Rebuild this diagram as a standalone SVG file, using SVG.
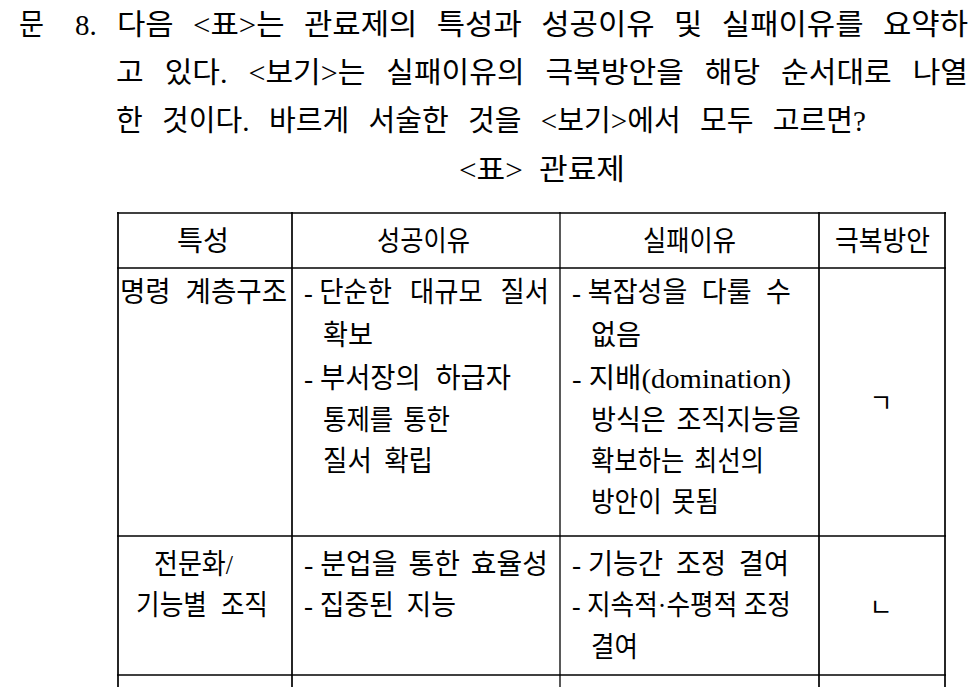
<svg xmlns="http://www.w3.org/2000/svg" width="977" height="687" viewBox="0 0 977 687">
<style>
text{font-family:'Liberation Serif','Noto Sans CJK KR',serif;font-size:28px;fill:#000;}
.q{font-size:29px;}
.d{word-spacing:0px;}
.j{font-family:'Noto Sans CJK KR',sans-serif;font-size:25px;}
.g line{stroke:#000;stroke-width:1.7;}
.g line.t{stroke-width:1.3;}
</style>
<rect width="977" height="687" fill="#fff"/>
<g id="question">
<text class="q" x="19" y="35" textLength="25" lengthAdjust="spacingAndGlyphs">문</text>
<text class="q" x="75" y="35">8.</text>
<text class="q" x="117" y="35" textLength="851" lengthAdjust="spacingAndGlyphs" style="word-spacing:11px">다음 &lt;표&gt;는 관료제의 특성과 성공이유 및 실패이유를 요약하</text>
<text class="q" x="116" y="83" textLength="852" lengthAdjust="spacingAndGlyphs" style="word-spacing:13px">고 있다. &lt;보기&gt;는 실패이유의 극복방안을 해당 순서대로 나열</text>
<text class="q" x="116" y="131" textLength="750" lengthAdjust="spacingAndGlyphs" style="word-spacing:12px">한 것이다. 바르게 서술한 것을 &lt;보기&gt;에서 모두 고르면?</text>
</g>
<g id="table-title">
<text class="q" x="459" y="180" textLength="166" lengthAdjust="spacingAndGlyphs" style="word-spacing:8px">&lt;표&gt; 관료제</text>
</g>
<g id="grid" class="g">
<line x1="117" y1="213" x2="946" y2="213"/>
<line x1="117" y1="268" x2="946" y2="268"/>
<line x1="117" y1="536" x2="946" y2="536"/>
<line x1="117" y1="675" x2="946" y2="675"/>
<line x1="118" y1="212" x2="118" y2="687"/>
<line x1="292" y1="212" x2="292" y2="687"/>
<line class="t" x1="560" y1="212" x2="560" y2="687"/>
<line x1="819" y1="212" x2="819" y2="687"/>
<line x1="945" y1="212" x2="945" y2="687"/>
</g>
<g id="header">
<text x="177" y="251" textLength="52" lengthAdjust="spacingAndGlyphs">특성</text>
<text x="377" y="251" textLength="93" lengthAdjust="spacingAndGlyphs">성공이유</text>
<text x="643" y="251" textLength="93" lengthAdjust="spacingAndGlyphs">실패이유</text>
<text x="835" y="251" textLength="95" lengthAdjust="spacingAndGlyphs">극복방안</text>
</g>
<g id="row1-feature">
<text x="120" y="302" textLength="167" lengthAdjust="spacingAndGlyphs" style="word-spacing:8px">명령 계층구조</text>
</g>
<g id="row1-success">
<text x="304" y="302" textLength="245" lengthAdjust="spacingAndGlyphs" style="word-spacing:12px"><tspan class="d">- </tspan>단순한 대규모 질서</text>
<text x="323" y="345" textLength="50" lengthAdjust="spacingAndGlyphs">확보</text>
<text x="304" y="388" textLength="207" lengthAdjust="spacingAndGlyphs" style="word-spacing:8px"><tspan class="d">- </tspan>부서장의 하급자</text>
<text x="323" y="430" textLength="127" lengthAdjust="spacingAndGlyphs" style="word-spacing:4px">통제를 통한</text>
<text x="323" y="471" textLength="110" lengthAdjust="spacingAndGlyphs" style="word-spacing:6px">질서 확립</text>
</g>
<g id="row1-failure">
<text x="572" y="302" textLength="219" lengthAdjust="spacingAndGlyphs" style="word-spacing:8px"><tspan class="d">- </tspan>복잡성을 다룰 수</text>
<text x="591" y="345" textLength="50" lengthAdjust="spacingAndGlyphs">없음</text>
<text x="572" y="388" textLength="219" lengthAdjust="spacingAndGlyphs"><tspan class="d">- </tspan>지배(domination)</text>
<text x="591" y="430" textLength="210" lengthAdjust="spacingAndGlyphs" style="word-spacing:4px">방식은 조직지능을</text>
<text x="591" y="471" textLength="173" lengthAdjust="spacingAndGlyphs" style="word-spacing:4px">확보하는 최선의</text>
<text x="591" y="512" textLength="128" lengthAdjust="spacingAndGlyphs" style="word-spacing:4px">방안이 못됨</text>
</g>
<g id="row1-remedy">
<text class="j" x="881" y="412" text-anchor="middle">ㄱ</text>
</g>
<g id="row2-feature">
<text x="154" y="574" textLength="79" lengthAdjust="spacingAndGlyphs">전문화/</text>
<text x="136" y="615" textLength="132" lengthAdjust="spacingAndGlyphs" style="word-spacing:8px">기능별 조직</text>
</g>
<g id="row2-success">
<text x="304" y="574" textLength="244" lengthAdjust="spacingAndGlyphs" style="word-spacing:4px"><tspan class="d">- </tspan>분업을 통한 효율성</text>
<text x="304" y="615" textLength="152" lengthAdjust="spacingAndGlyphs" style="word-spacing:6px"><tspan class="d">- </tspan>집중된 지능</text>
</g>
<g id="row2-failure">
<text x="572" y="574" textLength="217" lengthAdjust="spacingAndGlyphs" style="word-spacing:6px"><tspan class="d">- </tspan>기능간 조정 결여</text>
<text x="572" y="615" textLength="219" lengthAdjust="spacingAndGlyphs"><tspan class="d">- </tspan>지속적·수평적 조정</text>
<text x="591" y="657" textLength="47" lengthAdjust="spacingAndGlyphs">결여</text>
</g>
<g id="row2-remedy">
<text class="j" x="881" y="616" text-anchor="middle">ㄴ</text>
</g>
</svg>
